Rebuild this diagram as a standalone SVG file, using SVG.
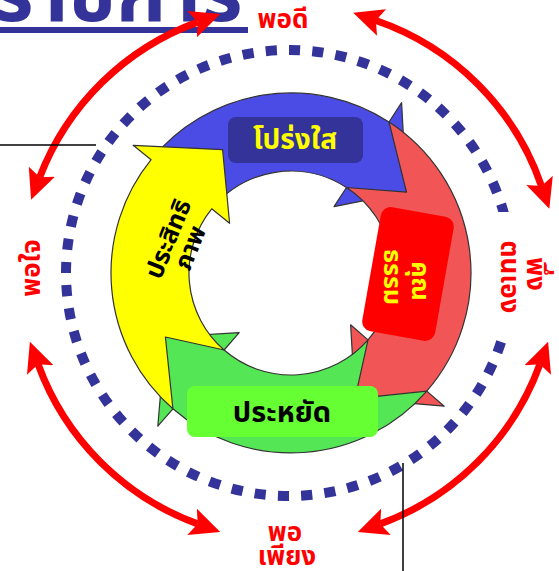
<svg xmlns="http://www.w3.org/2000/svg" width="559" height="571" viewBox="0 0 559 571">
<defs>
<marker id="ah" markerUnits="userSpaceOnUse" viewBox="0 0 30 28" markerWidth="30" markerHeight="28" refX="6" refY="14" orient="auto-start-reverse">
<path d="M0,0 L30,14 L0,28 L6,14 z" fill="#ff0000"/>
</marker>
<style>
.th{font-family:"Noto Sans Thai","Noto Sans","DejaVu Sans",sans-serif;font-weight:bold}
.lbl{fill:#ff0000;font-size:26px;text-anchor:middle}
.arc{fill:none;stroke:#ff0000;stroke-width:7;marker-start:url(#ah);marker-end:url(#ah)}
.cyc{stroke:#333;stroke-width:1.2;stroke-linejoin:round}
.lead{stroke:#000;stroke-width:1.5;fill:none}
</style>
</defs>
<rect width="559" height="571" fill="#fff"/>
<g id="title">
<text class="th" x="-8" y="21" font-size="80" fill="#333399">ราชการ</text>
<rect x="0" y="27" width="248" height="6" fill="#333399"/>
</g>
<g id="dotted-ring">
<circle cx="289" cy="273" r="223" fill="none" stroke="#333399" stroke-width="10" stroke-dasharray="11 12" pathLength="1380"/>
</g>
<g id="arrow-blue">
<path class="cyc" fill="#4b4be6" d="M151.1,159.7 A180,180 0 0 1 389.0,122.0 L401.6,102.7 L406.5,192.1 L334.0,206.7 L346.5,187.5 A102,102 0 0 0 211.7,208.8 L222.6,149.7 Z"/>
</g>
<g id="arrow-red">
<path class="cyc" fill="#f25555" d="M389.0,122.0 A180,180 0 0 1 426.8,391.1 L444.2,406.2 L355.0,398.6 L350.6,324.8 L368.0,339.9 A102,102 0 0 0 346.5,187.5 L406.5,192.1 Z"/>
</g>
<g id="arrow-green">
<path class="cyc" fill="#55e655" d="M426.8,391.1 A180,180 0 0 1 172.9,408.8 L157.8,426.2 L165.4,337.0 L239.2,332.6 L224.1,350.0 A102,102 0 0 0 368.0,339.9 L355.0,398.6 Z"/>
</g>
<g id="arrow-yellow">
<path class="cyc" fill="#ffff00" d="M172.9,408.8 A180,180 0 0 1 151.1,159.7 L133.2,145.3 L222.6,149.7 L229.6,223.3 L211.7,208.8 A102,102 0 0 0 224.1,350.0 L165.4,337.0 Z"/>
</g>
<g id="node-transparent">
<rect x="228" y="117" width="135" height="46" rx="8" fill="#333399"/>
<text class="th" x="295" y="149" font-size="28" fill="#ffff00" text-anchor="middle">โปร่งใส</text>
</g>
<g id="node-morality">
<rect x="371" y="211" width="74" height="126" rx="10" fill="#ff0000" transform="rotate(10 408 274)"/>
<text class="th" font-size="25" fill="#ffff00" text-anchor="middle" transform="translate(412,281) rotate(90)">คุณ</text>
<text class="th" font-size="25" fill="#ffff00" text-anchor="middle" transform="translate(384,277) rotate(90)">ธรรม</text>
</g>
<g id="node-economy">
<rect x="187" y="386" width="191" height="51" rx="8" fill="#66ff33"/>
<text class="th" x="282" y="422" font-size="29" fill="#000" text-anchor="middle">ประหยัด</text>
</g>
<g id="node-efficiency">
<text class="th" font-size="25" fill="#000" text-anchor="middle" transform="translate(176,242) rotate(-68)">ประสิทธิ</text>
<text class="th" font-size="25" fill="#000" text-anchor="middle" transform="translate(198,251) rotate(-68)">ภาพ</text>
</g>
<g id="connectors">
<path class="arc" d="M375.9,20.5 A267,267 0 0 1 541.5,186.1"/>
<path class="arc" d="M197.7,22.1 A267,267 0 0 0 39.7,177.3"/>
<path class="arc" d="M197.7,523.9 A267,267 0 0 1 38.1,364.3"/>
<path class="arc" d="M380.3,523.9 A267,267 0 0 0 539.9,364.3"/>
<path class="lead" d="M0,145 H96"/>
<path class="lead" d="M403,463 V571"/>
</g>
<g id="label-pordee"><text class="th lbl" x="283" y="28" font-size="27">พอดี</text></g>
<g id="label-porjai"><text class="th lbl" transform="translate(40,268) rotate(-90)">พอใจ</text></g>
<g id="label-pueng">
<rect x="488" y="212" width="68" height="128" fill="#fff"/>
<text class="th lbl" transform="translate(527,274) rotate(90)">พึ่ง</text>
<text class="th lbl" transform="translate(501,277) rotate(90)">ตนเอง</text>
</g>
<g id="label-porpiang">
<text class="th lbl" x="285" y="541">พอ</text>
<text class="th lbl" x="287" y="565">เพียง</text>
</g>
</svg>
